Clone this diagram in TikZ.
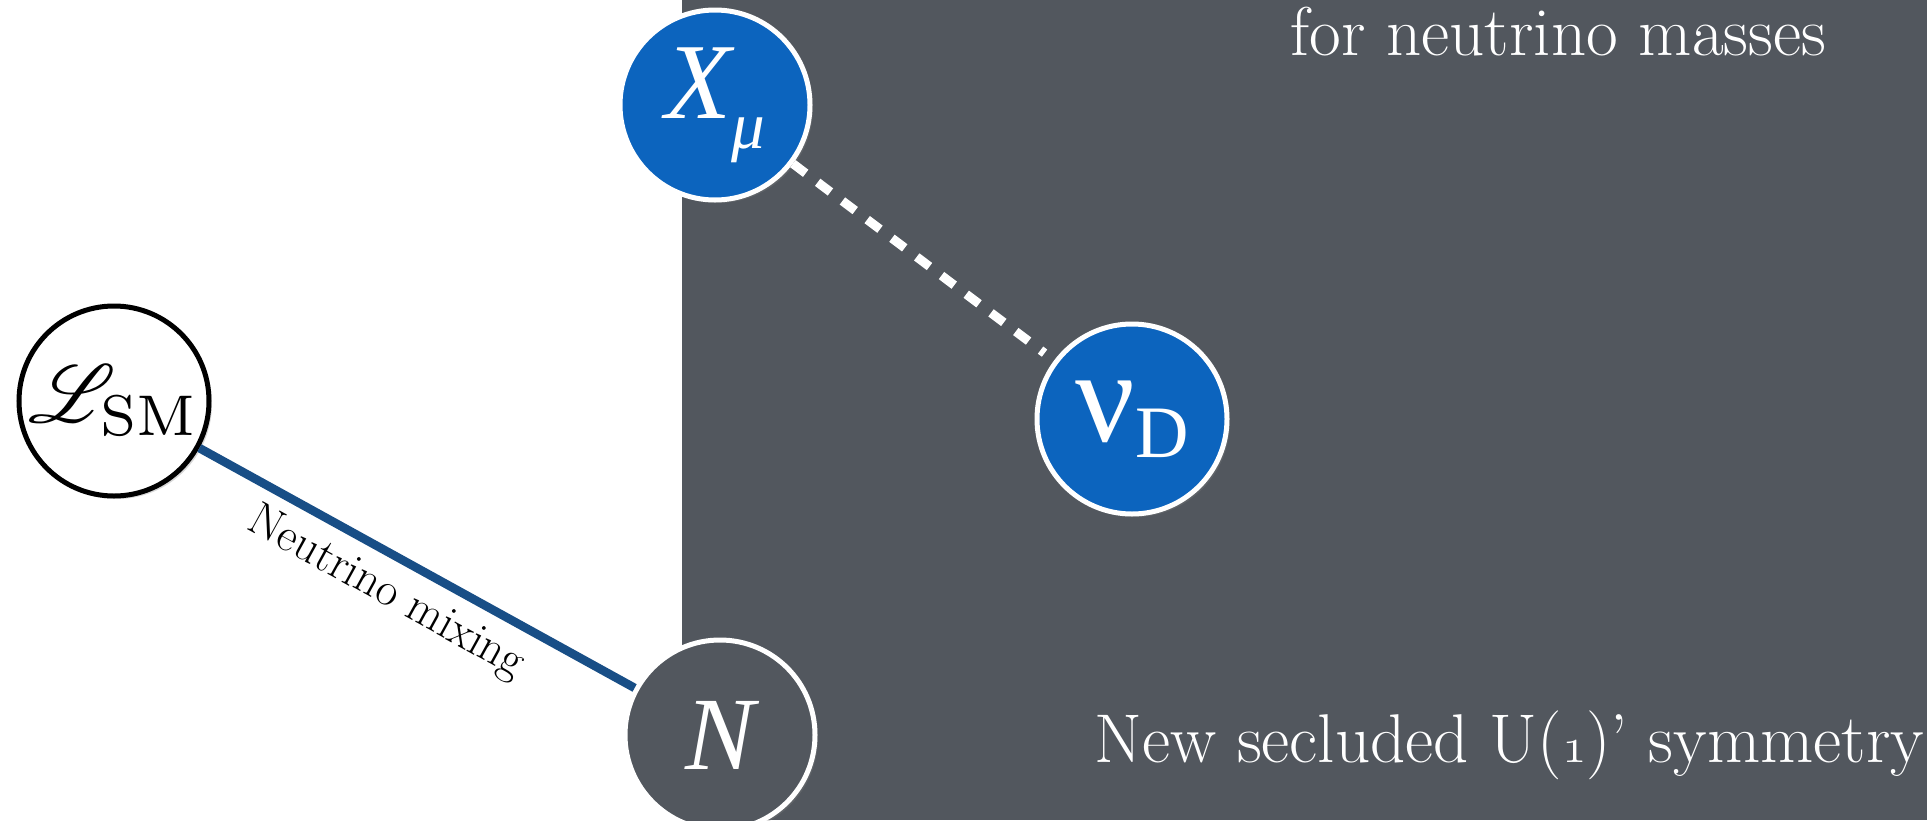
\documentclass[tikz,border=0pt]{standalone}
\usepackage{fontspec}
\usepackage{amsmath,mathrsfs}
\usepackage{xcolor}
\usepackage{tikz}
\usetikzlibrary{shadows}
\newfontfamily\timesfont{Liberation Serif}
\definecolor{panelgrey}{RGB}{82,87,94}
\definecolor{dotblue}{RGB}{12,100,190}
\definecolor{mixblue}{RGB}{24,78,134}
\newcommand{\lowsub}[1]{\raisebox{-0.28em}{\scalebox{0.62}{#1}}}

\begin{document}
\begin{tikzpicture}[
    x=0.5pt, y=-0.5pt,
    field/.style={circle, line width=2.5pt, minimum size=95pt, inner sep=0pt,
        drop shadow={shadow xshift=1.5pt, shadow yshift=-1.5pt, opacity=0.3}},
    smfield/.style={field, draw=black, fill=white},
    darkfield/.style={field, draw=white, fill=dotblue, text=white,
        font=\fontsize{54}{60}\selectfont},
    hiddenfield/.style={darkfield, fill=panelgrey, font=\fontsize{52}{58}\selectfont},
    mixing/.style={line width=4.3pt, mixblue},
    portal/.style={line width=4.5pt, white, dash pattern=on 8pt off 7.5pt},
    caption/.style={text=white, font=\fontsize{34.5}{40}\selectfont, inner sep=0pt},
]
\useasboundingbox (0,0) rectangle (1927,820);
\fill[white] (0,0) rectangle (1927,820);
\fill[panelgrey] (682,0) rectangle (1927,820);

\node[smfield] (lsm) at (114,401) {\scalebox{4.1}{$\mathscr{L}_{\mathrm{SM}}$}};
\node[darkfield] (xmu) at (715,105) {\timesfont\itshape X\lowsub{μ}};
\node[darkfield] (nud) at (1132,419)
    {\timesfont{\fontsize{66}{70}\selectfont ν}\raisebox{-8pt}{\fontsize{37}{40}\selectfont D}};
\node[hiddenfield] (hnl) at (720,735) {\timesfont\itshape N};

\draw[mixing] (lsm) -- (hnl)
    node[pos=0.47, sloped, below=5pt, inner sep=1pt, text=black,
        font=\fontsize{23.5}{28}\selectfont] (mixlabel) {Neutrino mixing};
\draw[portal, shorten >=6pt] (xmu) -- (nud);

\node[caption, anchor=base west] (masses) at (1290,55) {for neutrino masses};
\node[caption, anchor=base west] (symm) at (1094,762)
    {New secluded U($\mathnormal{1}$)’ symmetry};
\end{tikzpicture}
\end{document}
